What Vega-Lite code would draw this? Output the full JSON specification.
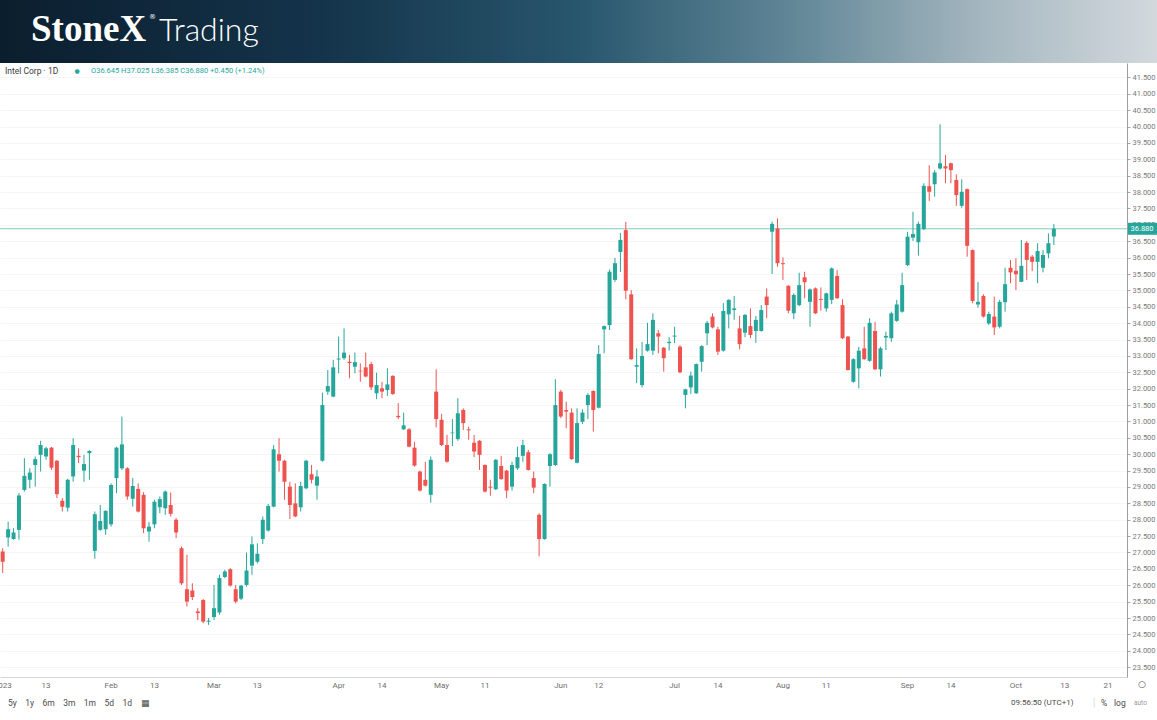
{
  "$schema": "https://vega.github.io/schema/vega-lite/v6.json",
  "width": 1127,
  "height": 614,
  "autosize": {"type": "none"},
  "padding": {"left": 0, "top": 63, "right": 30, "bottom": 43},
  "background": "#ffffff",
  "config": {"view": {"stroke": null}, "font": "Roboto"},
  "layer": [
    {
      "data": {"values": [{}]},
      "mark": {"type": "rect", "color": {"x1": 0, "y1": 0, "x2": 1, "y2": 0, "gradient": "linear", "stops": [
        {"offset": 0, "color": "#0b1e2e"},
        {"offset": 0.28, "color": "#14344b"},
        {"offset": 0.5, "color": "#28566d"},
        {"offset": 0.68, "color": "#5f8596"},
        {"offset": 0.85, "color": "#a5b7c0"},
        {"offset": 1, "color": "#d3d9dd"}]}},
      "encoding": {"x": {"value": 0}, "x2": {"value": 1157}, "y": {"value": -63}, "y2": {"value": 0}}
    },
    {
      "data": {"values": [{"p": 36.88}]},
      "mark": {"type": "rule", "color": "#86cbc1", "strokeWidth": 1},
      "encoding": {
        "y": {
          "field": "p", "type": "quantitative",
          "scale": {"domain": [23.2, 41.94], "nice": false, "zero": false},
          "axis": {
            "orient": "right", "title": null,
            "values": [23.5,24,24.5,25,25.5,26,26.5,27,27.5,28,28.5,29,29.5,30,30.5,31,31.5,32,32.5,33,33.5,34,34.5,35,35.5,36,36.5,37,37.5,38,38.5,39,39.5,40,40.5,41,41.5],
            "tickCount": 40,
            "format": ".3f", "grid": true, "gridColor": "#f4f5f6",
            "tickSize": 3, "tickColor": "#a8a8a8", "domainColor": "#9e9e9e",
            "labelColor": "#7a7a7a", "labelFontSize": 7.5, "labelFont": "Roboto", "labelPadding": 2,
            "labelOverlap": false, "labelBound": false
          }
        }
      }
    },
    {
      "data": {"values": [
        {"d":"2023-01-03","o":27.03,"h":27.13,"l":26.37,"c":26.72},
        {"d":"2023-01-04","o":27.46,"h":27.94,"l":27.18,"c":27.71},
        {"d":"2023-01-05","o":27.41,"h":27.74,"l":27.39,"c":27.61},
        {"d":"2023-01-06","o":27.69,"h":28.81,"l":27.39,"c":28.74},
        {"d":"2023-01-09","o":28.91,"h":29.88,"l":28.86,"c":29.34},
        {"d":"2023-01-10","o":29.22,"h":29.57,"l":28.96,"c":29.44},
        {"d":"2023-01-11","o":29.67,"h":29.93,"l":29.01,"c":29.85},
        {"d":"2023-01-12","o":29.98,"h":30.41,"l":29.47,"c":30.28},
        {"d":"2023-01-13","o":29.93,"h":30.23,"l":29.83,"c":30.18},
        {"d":"2023-01-17","o":30.20,"h":30.22,"l":29.52,"c":29.59},
        {"d":"2023-01-18","o":29.80,"h":29.82,"l":28.66,"c":28.78},
        {"d":"2023-01-19","o":28.58,"h":28.66,"l":28.25,"c":28.40},
        {"d":"2023-01-20","o":28.37,"h":29.25,"l":28.25,"c":29.22},
        {"d":"2023-01-23","o":29.32,"h":30.49,"l":29.16,"c":30.28},
        {"d":"2023-01-24","o":29.95,"h":30.18,"l":29.73,"c":29.91},
        {"d":"2023-01-25","o":29.50,"h":29.98,"l":29.16,"c":29.70},
        {"d":"2023-01-26","o":30.03,"h":30.12,"l":29.22,"c":30.10},
        {"d":"2023-01-27","o":27.05,"h":28.25,"l":26.81,"c":28.17},
        {"d":"2023-01-30","o":27.69,"h":28.45,"l":27.66,"c":27.96},
        {"d":"2023-01-31","o":27.71,"h":28.29,"l":27.54,"c":28.27},
        {"d":"2023-02-01","o":27.86,"h":29.11,"l":27.79,"c":29.06},
        {"d":"2023-02-02","o":29.27,"h":30.23,"l":28.81,"c":30.20},
        {"d":"2023-02-03","o":29.57,"h":31.15,"l":29.52,"c":30.30},
        {"d":"2023-02-06","o":29.57,"h":29.60,"l":28.61,"c":28.71},
        {"d":"2023-02-07","o":28.64,"h":29.27,"l":28.40,"c":29.03},
        {"d":"2023-02-08","o":28.94,"h":29.11,"l":28.22,"c":28.25},
        {"d":"2023-02-09","o":28.76,"h":28.84,"l":27.59,"c":27.74},
        {"d":"2023-02-10","o":27.64,"h":27.93,"l":27.33,"c":27.79},
        {"d":"2023-02-13","o":27.86,"h":28.61,"l":27.74,"c":28.55},
        {"d":"2023-02-14","o":28.38,"h":28.71,"l":28.20,"c":28.63},
        {"d":"2023-02-15","o":28.35,"h":28.89,"l":28.15,"c":28.86},
        {"d":"2023-02-16","o":28.45,"h":28.83,"l":28.10,"c":28.18},
        {"d":"2023-02-17","o":28.00,"h":28.05,"l":27.44,"c":27.61},
        {"d":"2023-02-21","o":27.13,"h":27.18,"l":26.01,"c":26.06},
        {"d":"2023-02-22","o":25.88,"h":26.93,"l":25.35,"c":25.50},
        {"d":"2023-02-23","o":25.84,"h":26.06,"l":25.55,"c":25.64},
        {"d":"2023-02-24","o":25.20,"h":25.30,"l":24.94,"c":25.15},
        {"d":"2023-02-27","o":25.55,"h":25.58,"l":24.84,"c":24.89},
        {"d":"2023-02-28","o":24.89,"h":25.00,"l":24.79,"c":24.92},
        {"d":"2023-03-01","o":25.03,"h":26.01,"l":24.94,"c":25.30},
        {"d":"2023-03-02","o":25.17,"h":26.32,"l":25.10,"c":26.22},
        {"d":"2023-03-03","o":26.25,"h":26.47,"l":26.22,"c":26.42},
        {"d":"2023-03-06","o":26.49,"h":26.52,"l":25.96,"c":25.99},
        {"d":"2023-03-07","o":25.88,"h":26.01,"l":25.45,"c":25.50},
        {"d":"2023-03-08","o":25.59,"h":26.01,"l":25.55,"c":25.99},
        {"d":"2023-03-09","o":26.01,"h":27.00,"l":25.96,"c":26.45},
        {"d":"2023-03-10","o":26.60,"h":27.49,"l":26.32,"c":27.25},
        {"d":"2023-03-13","o":26.72,"h":27.28,"l":26.67,"c":26.96},
        {"d":"2023-03-14","o":27.41,"h":28.10,"l":27.26,"c":28.00},
        {"d":"2023-03-15","o":27.67,"h":28.48,"l":27.64,"c":28.42},
        {"d":"2023-03-16","o":28.40,"h":30.28,"l":28.38,"c":30.15},
        {"d":"2023-03-17","o":30.00,"h":30.49,"l":29.47,"c":29.80},
        {"d":"2023-03-20","o":29.80,"h":29.83,"l":28.61,"c":29.16},
        {"d":"2023-03-21","o":29.01,"h":29.16,"l":28.02,"c":28.45},
        {"d":"2023-03-22","o":28.50,"h":29.11,"l":28.08,"c":28.10},
        {"d":"2023-03-23","o":28.38,"h":29.16,"l":28.25,"c":29.03},
        {"d":"2023-03-24","o":28.96,"h":29.83,"l":28.93,"c":29.80},
        {"d":"2023-03-27","o":29.39,"h":29.67,"l":29.11,"c":29.22},
        {"d":"2023-03-28","o":29.04,"h":29.52,"l":28.61,"c":29.32},
        {"d":"2023-03-29","o":29.80,"h":31.88,"l":29.77,"c":31.50},
        {"d":"2023-03-30","o":31.91,"h":32.57,"l":31.81,"c":32.08},
        {"d":"2023-03-31","o":31.76,"h":32.88,"l":31.74,"c":32.65},
        {"d":"2023-04-03","o":32.89,"h":33.59,"l":32.47,"c":32.92},
        {"d":"2023-04-04","o":32.93,"h":33.84,"l":32.88,"c":33.10},
        {"d":"2023-04-05","o":32.82,"h":33.03,"l":32.32,"c":32.78},
        {"d":"2023-04-06","o":32.67,"h":33.10,"l":32.47,"c":32.81},
        {"d":"2023-04-10","o":32.55,"h":32.77,"l":32.21,"c":32.53},
        {"d":"2023-04-11","o":32.65,"h":33.10,"l":32.35,"c":32.37},
        {"d":"2023-04-12","o":32.75,"h":32.82,"l":31.96,"c":32.04},
        {"d":"2023-04-13","o":31.86,"h":32.49,"l":31.68,"c":32.11},
        {"d":"2023-04-14","o":32.01,"h":32.21,"l":31.71,"c":31.91},
        {"d":"2023-04-17","o":31.96,"h":32.62,"l":31.78,"c":32.13},
        {"d":"2023-04-18","o":32.39,"h":32.41,"l":31.81,"c":31.84},
        {"d":"2023-04-19","o":31.17,"h":31.56,"l":31.07,"c":31.13},
        {"d":"2023-04-20","o":30.76,"h":31.27,"l":30.74,"c":30.88},
        {"d":"2023-04-21","o":30.76,"h":30.80,"l":30.21,"c":30.23},
        {"d":"2023-04-24","o":30.20,"h":30.38,"l":29.62,"c":29.65},
        {"d":"2023-04-25","o":29.47,"h":29.50,"l":28.86,"c":28.89},
        {"d":"2023-04-26","o":29.22,"h":29.77,"l":29.01,"c":29.04},
        {"d":"2023-04-27","o":28.76,"h":29.93,"l":28.52,"c":29.83},
        {"d":"2023-04-28","o":31.91,"h":32.59,"l":30.82,"c":31.07},
        {"d":"2023-05-01","o":31.05,"h":31.23,"l":30.25,"c":30.28},
        {"d":"2023-05-02","o":30.28,"h":30.59,"l":29.74,"c":29.77},
        {"d":"2023-05-03","o":30.64,"h":31.07,"l":30.25,"c":30.66},
        {"d":"2023-05-04","o":30.46,"h":31.71,"l":30.41,"c":31.25},
        {"d":"2023-05-05","o":31.35,"h":31.40,"l":30.74,"c":30.95},
        {"d":"2023-05-08","o":30.76,"h":30.84,"l":30.44,"c":30.73},
        {"d":"2023-05-09","o":30.35,"h":30.59,"l":29.91,"c":30.08},
        {"d":"2023-05-10","o":30.41,"h":30.43,"l":29.52,"c":29.98},
        {"d":"2023-05-11","o":29.67,"h":29.69,"l":28.83,"c":28.86},
        {"d":"2023-05-12","o":29.01,"h":29.22,"l":28.73,"c":28.98},
        {"d":"2023-05-15","o":28.93,"h":29.85,"l":28.91,"c":29.83},
        {"d":"2023-05-16","o":29.64,"h":29.95,"l":29.22,"c":29.24},
        {"d":"2023-05-17","o":29.50,"h":29.52,"l":28.66,"c":28.89},
        {"d":"2023-05-18","o":29.01,"h":29.77,"l":28.89,"c":29.67},
        {"d":"2023-05-19","o":29.57,"h":30.23,"l":29.52,"c":29.91},
        {"d":"2023-05-22","o":29.95,"h":30.44,"l":29.77,"c":30.28},
        {"d":"2023-05-23","o":30.06,"h":30.13,"l":29.50,"c":29.52},
        {"d":"2023-05-24","o":29.27,"h":29.47,"l":28.81,"c":28.98},
        {"d":"2023-05-25","o":28.15,"h":28.20,"l":26.88,"c":27.41},
        {"d":"2023-05-26","o":27.41,"h":29.11,"l":27.39,"c":29.09},
        {"d":"2023-05-30","o":29.64,"h":30.03,"l":29.01,"c":30.00},
        {"d":"2023-05-31","o":29.67,"h":32.29,"l":29.64,"c":31.50},
        {"d":"2023-06-01","o":31.91,"h":31.96,"l":31.10,"c":31.15},
        {"d":"2023-06-02","o":31.35,"h":31.60,"l":30.79,"c":31.30},
        {"d":"2023-06-05","o":31.27,"h":31.40,"l":29.83,"c":29.85},
        {"d":"2023-06-06","o":29.74,"h":31.40,"l":29.72,"c":30.95},
        {"d":"2023-06-07","o":30.99,"h":31.37,"l":30.92,"c":31.27},
        {"d":"2023-06-08","o":31.50,"h":31.86,"l":31.07,"c":31.81},
        {"d":"2023-06-09","o":31.93,"h":31.95,"l":30.69,"c":31.35},
        {"d":"2023-06-12","o":31.42,"h":33.33,"l":31.40,"c":33.06},
        {"d":"2023-06-13","o":33.81,"h":33.93,"l":33.08,"c":33.91},
        {"d":"2023-06-14","o":33.94,"h":35.64,"l":33.79,"c":35.57},
        {"d":"2023-06-15","o":35.32,"h":35.99,"l":35.26,"c":35.83},
        {"d":"2023-06-16","o":36.17,"h":36.75,"l":35.56,"c":36.54},
        {"d":"2023-06-20","o":36.84,"h":37.09,"l":34.73,"c":34.99},
        {"d":"2023-06-21","o":34.88,"h":35.01,"l":32.88,"c":32.90},
        {"d":"2023-06-22","o":32.67,"h":33.23,"l":32.17,"c":32.72},
        {"d":"2023-06-23","o":32.11,"h":33.43,"l":32.04,"c":33.00},
        {"d":"2023-06-26","o":33.16,"h":34.01,"l":33.13,"c":33.36},
        {"d":"2023-06-27","o":33.16,"h":34.30,"l":33.03,"c":34.10},
        {"d":"2023-06-28","o":33.69,"h":33.79,"l":33.08,"c":33.59},
        {"d":"2023-06-29","o":33.25,"h":33.27,"l":32.52,"c":32.93},
        {"d":"2023-06-30","o":33.39,"h":33.57,"l":33.16,"c":33.43},
        {"d":"2023-07-03","o":33.59,"h":33.89,"l":33.39,"c":33.62},
        {"d":"2023-07-05","o":33.28,"h":33.33,"l":32.47,"c":32.50},
        {"d":"2023-07-06","o":31.81,"h":32.00,"l":31.40,"c":31.98},
        {"d":"2023-07-07","o":32.04,"h":32.52,"l":31.84,"c":32.40},
        {"d":"2023-07-10","o":31.86,"h":32.77,"l":31.84,"c":32.75},
        {"d":"2023-07-11","o":32.82,"h":33.33,"l":32.52,"c":33.30},
        {"d":"2023-07-12","o":33.69,"h":34.07,"l":33.33,"c":34.01},
        {"d":"2023-07-13","o":34.20,"h":34.30,"l":33.84,"c":33.87},
        {"d":"2023-07-14","o":33.81,"h":33.89,"l":33.03,"c":33.13},
        {"d":"2023-07-17","o":33.16,"h":34.61,"l":33.13,"c":34.37},
        {"d":"2023-07-18","o":34.27,"h":34.73,"l":33.84,"c":34.71},
        {"d":"2023-07-19","o":34.40,"h":34.83,"l":34.10,"c":34.45},
        {"d":"2023-07-20","o":33.84,"h":34.22,"l":33.20,"c":33.36},
        {"d":"2023-07-21","o":33.71,"h":34.28,"l":33.57,"c":34.25},
        {"d":"2023-07-24","o":33.91,"h":34.45,"l":33.54,"c":33.64},
        {"d":"2023-07-25","o":33.76,"h":34.22,"l":33.40,"c":34.10},
        {"d":"2023-07-26","o":33.76,"h":34.55,"l":33.74,"c":34.40},
        {"d":"2023-07-27","o":34.81,"h":35.06,"l":34.15,"c":34.55},
        {"d":"2023-07-28","o":36.79,"h":37.10,"l":35.50,"c":37.03},
        {"d":"2023-07-31","o":36.89,"h":37.20,"l":35.72,"c":35.83},
        {"d":"2023-08-01","o":35.83,"h":36.01,"l":35.32,"c":35.80},
        {"d":"2023-08-02","o":35.14,"h":35.16,"l":34.30,"c":34.38},
        {"d":"2023-08-03","o":34.30,"h":34.91,"l":34.12,"c":34.86},
        {"d":"2023-08-04","o":34.55,"h":35.54,"l":34.52,"c":35.16},
        {"d":"2023-08-07","o":35.40,"h":35.57,"l":34.76,"c":35.25},
        {"d":"2023-08-08","o":34.65,"h":35.06,"l":33.89,"c":35.03},
        {"d":"2023-08-09","o":35.06,"h":35.09,"l":34.28,"c":34.30},
        {"d":"2023-08-10","o":34.74,"h":35.09,"l":34.38,"c":34.71},
        {"d":"2023-08-11","o":34.45,"h":34.93,"l":34.35,"c":34.91},
        {"d":"2023-08-14","o":34.71,"h":35.70,"l":34.58,"c":35.67},
        {"d":"2023-08-15","o":35.44,"h":35.62,"l":34.74,"c":34.76},
        {"d":"2023-08-16","o":34.55,"h":34.73,"l":33.51,"c":33.54},
        {"d":"2023-08-17","o":33.59,"h":33.61,"l":32.55,"c":32.57},
        {"d":"2023-08-18","o":32.21,"h":32.93,"l":32.18,"c":32.90},
        {"d":"2023-08-21","o":32.62,"h":33.28,"l":32.01,"c":33.16},
        {"d":"2023-08-22","o":33.23,"h":33.89,"l":32.88,"c":32.90},
        {"d":"2023-08-23","o":32.85,"h":34.15,"l":32.82,"c":34.01},
        {"d":"2023-08-24","o":33.76,"h":34.04,"l":32.57,"c":32.59},
        {"d":"2023-08-25","o":32.59,"h":33.28,"l":32.37,"c":33.23},
        {"d":"2023-08-28","o":33.56,"h":33.74,"l":33.18,"c":33.61},
        {"d":"2023-08-29","o":33.54,"h":34.35,"l":33.43,"c":34.30},
        {"d":"2023-08-30","o":34.07,"h":34.71,"l":34.04,"c":34.57},
        {"d":"2023-08-31","o":34.35,"h":35.54,"l":34.32,"c":35.16},
        {"d":"2023-09-01","o":35.77,"h":36.79,"l":35.74,"c":36.64},
        {"d":"2023-09-05","o":36.61,"h":37.40,"l":36.51,"c":36.72},
        {"d":"2023-09-06","o":36.47,"h":37.10,"l":36.06,"c":37.03},
        {"d":"2023-09-07","o":36.87,"h":38.27,"l":36.84,"c":38.19},
        {"d":"2023-09-08","o":38.18,"h":38.82,"l":37.73,"c":38.01},
        {"d":"2023-09-11","o":38.24,"h":38.67,"l":37.86,"c":38.60},
        {"d":"2023-09-12","o":38.72,"h":40.07,"l":38.69,"c":38.88},
        {"d":"2023-09-13","o":38.79,"h":39.13,"l":38.27,"c":38.72},
        {"d":"2023-09-14","o":38.88,"h":38.90,"l":38.27,"c":38.67},
        {"d":"2023-09-15","o":38.37,"h":38.54,"l":37.58,"c":37.91},
        {"d":"2023-09-18","o":37.58,"h":38.39,"l":37.52,"c":38.01},
        {"d":"2023-09-19","o":38.09,"h":38.11,"l":36.03,"c":36.36},
        {"d":"2023-09-20","o":36.23,"h":36.25,"l":34.61,"c":34.68},
        {"d":"2023-09-21","o":34.57,"h":35.26,"l":34.47,"c":34.65},
        {"d":"2023-09-22","o":34.83,"h":34.88,"l":34.17,"c":34.20},
        {"d":"2023-09-25","o":33.99,"h":34.35,"l":33.94,"c":34.28},
        {"d":"2023-09-26","o":34.20,"h":34.81,"l":33.64,"c":33.87},
        {"d":"2023-09-27","o":33.89,"h":34.71,"l":33.84,"c":34.65},
        {"d":"2023-09-28","o":34.64,"h":35.69,"l":34.35,"c":35.19},
        {"d":"2023-09-29","o":35.69,"h":35.93,"l":35.22,"c":35.55},
        {"d":"2023-10-02","o":35.60,"h":35.98,"l":35.01,"c":35.49},
        {"d":"2023-10-03","o":35.26,"h":36.54,"l":35.25,"c":35.75},
        {"d":"2023-10-04","o":36.45,"h":36.51,"l":35.32,"c":35.93},
        {"d":"2023-10-05","o":36.03,"h":36.08,"l":35.59,"c":35.87},
        {"d":"2023-10-06","o":35.87,"h":36.44,"l":35.22,"c":36.20},
        {"d":"2023-10-09","o":35.69,"h":36.23,"l":35.55,"c":36.08},
        {"d":"2023-10-10","o":36.13,"h":36.74,"l":35.98,"c":36.44},
        {"d":"2023-10-11","o":36.645,"h":37.025,"l":36.385,"c":36.88}
      ]},
      "encoding": {
        "x": {
          "field": "d", "type": "ordinal",
          "scale": {
            "domain": {"unionWith": ["2023-10-12","2023-10-13","2023-10-14","2023-10-15","2023-10-16","2023-10-17","2023-10-18","2023-10-19","2023-10-20","2023-10-21","2023-10-22","2023-10-23","2023-10-24"]},
            "paddingInner": 0, "paddingOuter": 0
          },
          "axis": {
            "orient": "bottom", "title": null,
            "values": ["2023-01-03","2023-01-13","2023-02-01","2023-02-13","2023-03-01","2023-03-13","2023-04-03","2023-04-14","2023-05-01","2023-05-11","2023-06-01","2023-06-12","2023-07-03","2023-07-14","2023-08-01","2023-08-11","2023-09-01","2023-09-14","2023-10-02","2023-10-13","2023-10-21"],
            "labelExpr": "datum.value == '2023-01-03' ? '2023' : (toNumber(substring(datum.value, 8, 10)) <= 3 ? timeFormat(datetime(2023, toNumber(substring(datum.value, 5, 7)) - 1, 1), '%b') : toString(toNumber(substring(datum.value, 8, 10))))",
            "labelAngle": 0, "ticks": false, "grid": false,
            "domainColor": "#d6d6d6", "labelColor": "#6e6e6e", "labelFontSize": 8,
            "labelFont": "Roboto", "labelPadding": 4, "labelOverlap": false, "labelBound": false
          }
        },
        "color": {"condition": {"test": "datum.c >= datum.o", "value": "#26a69a"}, "value": "#ef5350"}
      },
      "layer": [
        {
          "mark": {"type": "rule", "strokeWidth": 1},
          "encoding": {"y": {"field": "l", "type": "quantitative"}, "y2": {"field": "h"}}
        },
        {
          "mark": {"type": "bar", "width": {"band": 0.74}},
          "encoding": {"y": {"field": "o", "type": "quantitative"}, "y2": {"field": "c"}}
        }
      ]
    },
    {
      "data": {"values": [{"p": 36.88}]},
      "layer": [
        {
          "mark": {"type": "tick", "orient": "horizontal", "size": 29, "thickness": 12, "color": "#26a69a", "opacity": 1},
          "encoding": {"x": {"value": 1142.5}, "y": {"field": "p", "type": "quantitative"}}
        },
        {
          "mark": {"type": "text", "color": "#ffffff", "fontSize": 7.5, "font": "Roboto", "align": "center", "baseline": "middle"},
          "encoding": {"x": {"value": 1142}, "y": {"field": "p", "type": "quantitative"}, "text": {"field": "p", "format": ".3f"}}
        }
      ]
    },
    {
      "data": {"values": [{}]},
      "layer": [
        {"mark": {"type": "text", "text": "StoneX", "font": "Liberation Serif", "fontWeight": "bold", "fontSize": 37, "color": "#ffffff", "align": "left", "baseline": "alphabetic"},
         "encoding": {"x": {"value": 31}, "y": {"value": -22}}},
        {"mark": {"type": "text", "text": "®", "font": "DejaVu Sans", "fontSize": 7, "color": "#ffffff", "align": "left", "baseline": "middle"},
         "encoding": {"x": {"value": 149}, "y": {"value": -46}}},
        {"mark": {"type": "text", "text": "Trading", "font": "Lato", "fontWeight": 300, "fontSize": 32, "color": "#ffffff", "align": "left", "baseline": "alphabetic"},
         "encoding": {"x": {"value": 159}, "y": {"value": -22}}},
        {"mark": {"type": "text", "text": "Intel Corp · 1D", "font": "Roboto", "fontSize": 8.5, "color": "#3a3a3a", "align": "left", "baseline": "middle"},
         "encoding": {"x": {"value": 5}, "y": {"value": 8}}},
        {"mark": {"type": "text", "text": "●", "font": "DejaVu Sans", "fontSize": 6, "color": "#26a69a", "align": "center", "baseline": "middle"},
         "encoding": {"x": {"value": 77}, "y": {"value": 8}}},
        {"mark": {"type": "text", "text": "O36.645\u00a0H37.025\u00a0L36.385\u00a0C36.880\u00a0+0.450\u00a0(+1.24%)", "font": "Roboto", "fontSize": 7.5, "color": "#26a69a", "align": "left", "baseline": "middle"},
         "encoding": {"x": {"value": 91}, "y": {"value": 8}}},
        {"mark": {"type": "text", "text": "○", "font": "DejaVu Sans", "fontSize": 9, "color": "#555555", "align": "center", "baseline": "middle"},
         "encoding": {"x": {"value": 1142}, "y": {"value": 621}}},
        {"mark": {"type": "text", "text": "5y\u00a0\u00a0\u00a0\u00a01y\u00a0\u00a0\u00a0\u00a06m\u00a0\u00a0\u00a0\u00a03m\u00a0\u00a0\u00a0\u00a01m\u00a0\u00a0\u00a0\u00a05d\u00a0\u00a0\u00a0\u00a01d", "font": "Roboto", "fontSize": 8.5, "color": "#4a4a4a", "align": "left", "baseline": "middle"},
         "encoding": {"x": {"value": 8}, "y": {"value": 640}}},
        {"mark": {"type": "text", "text": "▦", "font": "DejaVu Sans", "fontSize": 9, "color": "#4a4a4a", "align": "left", "baseline": "middle"},
         "encoding": {"x": {"value": 141}, "y": {"value": 640}}},
        {"mark": {"type": "text", "text": "09:56:50 (UTC+1)", "font": "Roboto", "fontSize": 8, "color": "#4a4a4a", "align": "left", "baseline": "middle"},
         "encoding": {"x": {"value": 1011}, "y": {"value": 640}}},
        {"mark": {"type": "text", "text": "|", "font": "Roboto", "fontSize": 11, "color": "#dddddd", "align": "center", "baseline": "middle"},
         "encoding": {"x": {"value": 1094}, "y": {"value": 640}}},
        {"mark": {"type": "text", "text": "%", "font": "Roboto", "fontSize": 8.5, "color": "#4a4a4a", "align": "left", "baseline": "middle"},
         "encoding": {"x": {"value": 1101}, "y": {"value": 640}}},
        {"mark": {"type": "text", "text": "log", "font": "Roboto", "fontSize": 8.5, "color": "#4a4a4a", "align": "left", "baseline": "middle"},
         "encoding": {"x": {"value": 1114}, "y": {"value": 640}}},
        {"mark": {"type": "text", "text": "auto", "font": "Roboto", "fontSize": 6.5, "color": "#9a9a9a", "align": "left", "baseline": "middle"},
         "encoding": {"x": {"value": 1134}, "y": {"value": 640}}}
      ]
    }
  ]
}
